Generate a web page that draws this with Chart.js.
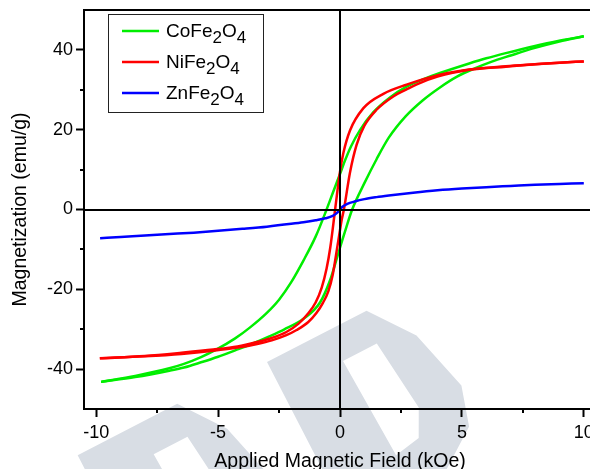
<!DOCTYPE html>
<html>
<head>
<meta charset="utf-8">
<script src="https://cdn.jsdelivr.net/npm/chart.js@4.4.0/dist/chart.umd.min.js"></script>
<style>
  html, body { margin: 0; padding: 0; background: #fff; overflow: hidden; }
  canvas { display: block; }
</style>
</head>
<body>
<canvas id="loopChart" width="610" height="480"></canvas>
<script>
// M-H loops: field in kOe, magnetization in emu/g
const coDescending = [
  [-9.8, -43.2], [-8.4, -41.7], [-7.0, -39.8], [-6.4, -38.7], [-5.7, -37.0], [-5.1, -35.2],
  [-4.3, -32.3], [-3.7, -29.6], [-3.0, -25.9], [-2.5, -22.6], [-2.0, -18.2], [-1.5, -12.8],
  [-1.0, -6.8], [-0.55, 0], [-0.25, 4.9], [0, 8.9], [0.2, 12.2], [0.45, 15.8], [0.82, 19.9],
  [1.37, 24.4], [2.05, 28.1], [2.73, 30.8], [3.4, 32.6], [4.1, 34.2], [5.3, 36.6], [6.0, 37.9],
  [6.8, 39.2], [8.0, 41.0], [8.9, 42.2], [10.0, 43.4]
];
const coAscending = [
  [-9.8, -43.2], [-8.4, -42.0], [-7.0, -40.4], [-6.4, -39.6], [-5.7, -38.3], [-5.0, -36.9],
  [-4.3, -35.3], [-3.7, -33.9], [-2.9, -31.8], [-2.3, -30.1], [-1.5, -27.4], [-0.82, -23.3],
  [-0.4, -17.6], [-0.1, -11.6], [0.2, -5.6], [0.5, 0], [1.0, 6.6], [1.5, 12.6], [2.0, 18.0],
  [2.7, 23.4], [3.4, 27.4], [4.1, 30.6], [4.8, 33.3], [5.5, 35.3], [6.2, 37.0], [7.0, 38.6],
  [8.0, 40.5], [9.0, 42.1], [10.0, 43.4]
];
const niDescending = [
  [-9.85, -37.3], [-8.0, -36.7], [-6.5, -35.9], [-5.2, -35.1], [-4.2, -34.3], [-3.4, -33.2],
  [-2.8, -32.2], [-2.2, -30.7], [-1.7, -28.6], [-1.3, -26.0], [-1.0, -23.3], [-0.75, -19.6],
  [-0.55, -14.8], [-0.4, -9.6], [-0.2, 0], [0, 9.5], [0.14, 14.2], [0.41, 19.8], [0.96, 25.4],
  [1.78, 29.0], [2.73, 31.3], [4.1, 33.8], [5.3, 35.1], [6.8, 35.9], [8.0, 36.4], [9.0, 36.8],
  [10.0, 37.1]
];
const niAscending = [
  [-9.85, -37.3], [-8.0, -36.8], [-6.5, -36.2], [-5.2, -35.4], [-4.2, -34.6], [-3.4, -33.7],
  [-2.8, -32.8], [-2.2, -31.5], [-1.78, -30.2], [-1.3, -28.2], [-0.96, -25.9], [-0.7, -23.4],
  [-0.48, -20.5], [-0.3, -16.4], [-0.1, -9.0], [0.07, -2.6], [0.16, 0], [0.41, 9.3], [0.68, 16.2],
  [1.0, 21.0], [1.5, 25.0], [2.2, 28.4], [2.73, 30.1], [3.2, 31.5], [4.0, 33.3], [5.3, 35.0],
  [6.8, 35.8], [8.0, 36.4], [9.0, 36.8], [10.0, 37.1]
];
const znCurve = [
  [-9.84, -7.2], [-9, -6.9], [-8, -6.5], [-7, -6.15], [-6, -5.8], [-5, -5.35], [-4, -4.85],
  [-3, -4.3], [-2, -3.6], [-1.5, -3.2], [-1, -2.7], [-0.6, -2.2], [-0.3, -1.6], [-0.1, -0.7],
  [0, 0], [0.1, 0.7], [0.3, 1.4], [0.6, 2.0], [1, 2.6], [1.5, 3.1], [2, 3.5], [3, 4.2], [4, 4.8],
  [5, 5.25], [6, 5.6], [7, 5.9], [8, 6.2], [9, 6.4], [10, 6.6]
];

const legendLabels = ['CoFe2O4', 'NiFe2O4', 'ZnFe2O4'];
const xMajorTicks = [-10, -5, 0, 5, 10];
const xMinorTicks = [-7.5, -2.5, 2.5, 7.5];
const yMajorTicks = [-40, -20, 0, 20, 40];
const yMinorTicks = [-30, -10, 10, 30];

const GREEN = '#00ee00', RED = '#ff0000', BLUE = '#0000ff';
const FONT = '"Liberation Sans", Arial, sans-serif';

function toPoints(pairs) {
    return pairs.map(p => ({ x: p[0], y: p[1] }));
}

function curve(pairs, color) {
    return {
        data: toPoints(pairs),
        borderColor: color,
        borderWidth: 2.5,
        showLine: true,
        pointRadius: 0,
        cubicInterpolationMode: 'monotone',
        fill: false
    };
}

// light grey letters of the publisher stamp behind the plot
const watermark = {
    id: 'watermark',
    beforeDraw(chart) {
        const ctx = chart.ctx;
        ctx.save();
        ctx.fillStyle = '#d8dde4';
        ctx.translate(267, 362);
        ctx.rotate(-27.3 * Math.PI / 180);
        [[0, 0], [-211, -4]].forEach(([du, dv]) => {
            ctx.beginPath();
            ctx.moveTo(du, dv);
            ctx.lineTo(du + 112, dv);
            ctx.lineTo(du + 145, dv + 45);
            ctx.lineTo(du + 162, dv + 110);
            ctx.lineTo(du + 150, dv + 150);
            ctx.lineTo(du + 110, dv + 178);
            ctx.lineTo(du, dv + 178);
            ctx.closePath();
            ctx.moveTo(du + 68, dv + 34);
            ctx.lineTo(du + 72, dv + 142);
            ctx.lineTo(du + 100, dv + 137);
            ctx.lineTo(du + 114, dv + 110);
            ctx.lineTo(du + 106, dv + 34);
            ctx.closePath();
            ctx.fill('evenodd');
        });
        ctx.restore();
    }
};

// frame, zero lines, minor ticks and the boxed legend
const frame = {
    id: 'frame',
    afterDatasetsDraw(chart) {
        const ctx = chart.ctx;
        const a = chart.chartArea;
        const xs = chart.scales.x, ys = chart.scales.y;
        ctx.save();
        ctx.strokeStyle = '#000';
        ctx.lineWidth = 2;
        ctx.beginPath();
        ctx.moveTo(a.left - 1, a.top);
        ctx.lineTo(a.right, a.top);
        const x0 = Math.round(xs.getPixelForValue(0));
        ctx.moveTo(x0, a.top);
        ctx.lineTo(x0, a.bottom);
        const y0 = Math.round(ys.getPixelForValue(0));
        ctx.moveTo(a.left, y0);
        ctx.lineTo(a.right, y0);
        xMinorTicks.forEach(v => {
            const px = Math.round(xs.getPixelForValue(v));
            ctx.moveTo(px, a.bottom);
            ctx.lineTo(px, a.bottom + 4);
        });
        yMinorTicks.forEach(v => {
            const py = Math.round(ys.getPixelForValue(v));
            ctx.moveTo(a.left, py);
            ctx.lineTo(a.left - 4, py);
        });
        ctx.stroke();

        // legend
        const bx = a.left + 24, by = a.top + 4, bw = 155, bh = 98;
        ctx.fillStyle = '#fff';
        ctx.fillRect(bx, by, bw, bh);
        ctx.lineWidth = 1;
        ctx.strokeStyle = '#222';
        ctx.strokeRect(bx + 0.5, by + 0.5, bw, bh);
        const colors = [GREEN, RED, BLUE];
        legendLabels.forEach((label, i) => {
            const ly = by + 17 + i * 31;
            ctx.strokeStyle = colors[i];
            ctx.lineWidth = 2.5;
            ctx.beginPath();
            ctx.moveTo(bx + 14, ly);
            ctx.lineTo(bx + 51, ly);
            ctx.stroke();
            let tx = bx + 58;
            ctx.fillStyle = '#000';
            ctx.textBaseline = 'alphabetic';
            label.split(/(\d+)/).filter(s => s).forEach(part => {
                const sub = /^\d+$/.test(part);
                ctx.font = (sub ? '17px ' : '19px ') + FONT;
                ctx.fillText(part, tx, ly + (sub ? 12 : 6));
                tx += ctx.measureText(part).width;
            });
        });
        ctx.restore();
    }
};

const ctx = document.getElementById('loopChart').getContext('2d');
const loopChart = new Chart(ctx, {
    type: 'scatter',
    data: {
        datasets: [
            curve(znCurve, BLUE),
            curve(niDescending, RED),
            curve(niAscending, RED),
            curve(coDescending, GREEN),
            curve(coAscending, GREEN)
        ]
    },
    options: {
        responsive: false,
        animation: false,
        devicePixelRatio: 1,
        layout: { padding: { left: 0, right: 14, top: 10, bottom: 0 } },
        plugins: { legend: { display: false }, tooltip: { enabled: false } },
        scales: {
            x: {
                type: 'linear',
                min: -10.5,
                max: 10.5,
                afterBuildTicks: s => { s.ticks = xMajorTicks.map(v => ({ value: v })); },
                afterFit: s => { s.height = 71; s.paddingLeft = 0; s.paddingRight = 0; },
                ticks: { color: '#000', font: { family: FONT, size: 18 }, padding: 5, maxRotation: 0 },
                grid: { drawOnChartArea: false, tickLength: 8, tickWidth: 2, tickColor: '#000' },
                border: { display: true, color: '#000', width: 2 },
                title: {
                    display: true,
                    text: 'Applied Magnetic Field (kOe)',
                    color: '#000',
                    font: { family: FONT, size: 19.5 },
                    padding: { top: 0, bottom: 7 }
                }
            },
            y: {
                type: 'linear',
                min: -50,
                max: 50,
                afterBuildTicks: s => { s.ticks = yMajorTicks.map(v => ({ value: v })); },
                afterFit: s => { s.width = 84; s.paddingTop = 0; s.paddingBottom = 0; },
                ticks: { color: '#000', font: { family: FONT, size: 18 }, padding: 3 },
                grid: { drawOnChartArea: false, tickLength: 8, tickWidth: 2, tickColor: '#000' },
                border: { display: true, color: '#000', width: 2 },
                title: {
                    display: true,
                    text: 'Magnetization (emu/g)',
                    color: '#000',
                    font: { family: FONT, size: 19.5 },
                    padding: { top: 9, bottom: 0 }
                }
            }
        }
    },
    plugins: [watermark, frame]
});
</script>
</body>
</html>
